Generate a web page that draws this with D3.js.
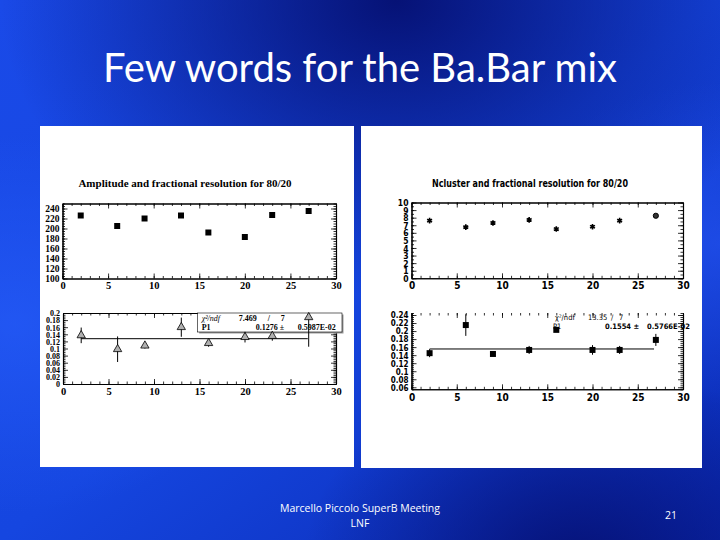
<!DOCTYPE html>
<html><head><meta charset="utf-8">
<script src="https://cdn.jsdelivr.net/npm/d3@7"></script>
<style>html,body{margin:0;padding:0;background:#0b2fc0;}svg{display:block;}</style>
</head><body>
<svg id="c" width="720" height="540"></svg>
<script>
// ---------------- DATA ----------------
const xPositions = [2, 6, 9, 13, 16, 20, 23, 27];
const amplitude = [226, 205, 220, 226, 192, 183, 227, 235];
const ampRes = [0.137, 0.098, 0.108, 0.160, 0.115, 0.132, 0.135, 0.188];
const ampResErr = [0.022, 0.036, 0.008, 0.027, 0.010, 0.015, 0.013, 0.083];
const ncluster = [7.6, 6.75, 7.3, 7.7, 6.5, 6.8, 7.6, 8.25];
const nclRes = [0.145, 0.215, 0.143, 0.153, 0.203, 0.153, 0.153, 0.178];
const nclResErr = [0.010, 0.027, 0.003, 0.010, 0.003, 0.012, 0.010, 0.015];
const ampFit = 0.1276, ampFitText = ["7.469", "7", "0.1276 \u00b1", "0.5987E-02"];
const nclFit = 0.1554, nclFitText = ["13.35", "7", "0.1554 \u00b1", "0.5766E-02"];
const xTicks = [0, 5, 10, 15, 20, 25, 30];
const ampTicks = [100, 120, 140, 160, 180, 200, 220, 240];
const ampResTicks = [0, 0.02, 0.04, 0.06, 0.08, 0.1, 0.12, 0.14, 0.16, 0.18, 0.2];
const nclTicks = [0, 1, 2, 3, 4, 5, 6, 7, 8, 9, 10];
const nclResTicks = [0.06, 0.08, 0.1, 0.12, 0.14, 0.16, 0.18, 0.2, 0.22, 0.24];
const slideTitle = "Few words for the Ba.Bar mix";
const leftTitle = "Amplitude and fractional resolution for 80/20";
const rightTitle = "Ncluster and fractional resolution for 80/20";
const footer1 = "Marcello Piccolo SuperB Meeting", footer2 = "LNF", pageNo = "21";

// ---------------- BACKGROUND ----------------
const svg = d3.select("#c");
const defs = svg.append("defs");
const lg = defs.append("linearGradient").attr("id","bg").attr("x1","0").attr("y1","0").attr("x2","1").attr("y2","1");
[["0%","#1a4ae8"],["50%","#1546e0"],["100%","#0a28b0"]].forEach(s=>lg.append("stop").attr("offset",s[0]).attr("stop-color",s[1]));
function radial(id, cx, cy, r, col, op){
  const g = defs.append("radialGradient").attr("id",id).attr("cx",cx).attr("cy",cy).attr("r",r);
  g.append("stop").attr("offset","0%").attr("stop-color",col).attr("stop-opacity",op);
  g.append("stop").attr("offset","100%").attr("stop-color",col).attr("stop-opacity",0);
}
radial("dk1","0.55","0.0","0.55","#050f70",0.95);
radial("dk2","0.8","1.05","0.38","#050f70",0.9);
radial("br1","0.02","0.6","0.35","#2a62ff",0.55);
radial("br2","1.0","0.45","0.3","#2a5cff",0.5);
["bg","br1","br2","dk1","dk2"].forEach(id=>svg.append("rect").attr("width",720).attr("height",540).attr("fill",`url(#${id})`));

svg.append("text").attr("x",360).attr("y",82).attr("text-anchor","middle")
  .attr("font-family","Lato, 'Open Sans', sans-serif").attr("font-size",40).attr("fill","#fff").text(slideTitle);

svg.append("text").attr("x",360).attr("y",512).attr("text-anchor","middle")
  .attr("font-family","'Open Sans', Lato, sans-serif").attr("font-size",10.5).attr("fill","#fff").text(footer1);
svg.append("text").attr("x",360).attr("y",527).attr("text-anchor","middle")
  .attr("font-family","'Open Sans', Lato, sans-serif").attr("font-size",10.5).attr("fill","#fff").text(footer2);
svg.append("text").attr("x",671).attr("y",519).attr("text-anchor","middle")
  .attr("font-family","'Open Sans', Lato, sans-serif").attr("font-size",10.5).attr("fill","#fff").text(pageNo);

// panels
svg.append("rect").attr("x",40).attr("y",126).attr("width",314).attr("height",341).attr("fill","#fff");
svg.append("rect").attr("x",361).attr("y",126).attr("width",341).attr("height",342).attr("fill","#fff");

const serif = "'Liberation Serif', 'Times New Roman', serif";
const narrow = "'DejaVu Sans Condensed', 'Liberation Sans', sans-serif";

svg.append("text").attr("x",185).attr("y",187).attr("text-anchor","middle")
  .attr("font-family",serif).attr("font-weight","bold").attr("font-size",11).text(leftTitle);
svg.append("text").attr("x",530).attr("y",187).attr("text-anchor","middle")
  .attr("font-family",narrow).attr("font-weight","bold").attr("font-size",10).attr("textLength",196).attr("lengthAdjust","spacingAndGlyphs").text(rightTitle);

// ---------------- PLOT HELPER ----------------
function frame(cfg){
  const x = d3.scaleLinear().domain([0,30]).range([cfg.x0,cfg.x1]);
  const y = d3.scaleLinear().domain(cfg.yDomain).range([cfg.y1,cfg.y0]);
  const g = svg.append("g");
  const fmt = cfg.fmt || (d=>d);
  const yMinor = d3.range(cfg.yDomain[0], cfg.yDomain[1]+1e-9, cfg.yMinorStep).map(v=>+v.toFixed(5));
  const xMinor = d3.range(0,30.001,1);
  const minor = (ax)=>ax.tickFormat("").tickSizeOuter(0);
  g.append("g").attr("transform",`translate(${cfg.x0},0)`).call(minor(d3.axisLeft(y).tickValues(yMinor).tickSizeInner(-2.5)));
  g.append("g").attr("transform",`translate(${cfg.x1},0)`).call(minor(d3.axisRight(y).tickValues(yMinor).tickSizeInner(-2.5)));
  g.append("g").attr("transform",`translate(0,${cfg.y1})`).call(minor(d3.axisBottom(x).tickValues(xMinor).tickSizeInner(-2.5)));
  const gt = g.append("g").attr("transform",`translate(0,${cfg.y0})`).call(minor(d3.axisTop(x).tickValues(xMinor).tickSizeInner(-2.5)));
  const L = g.append("g").attr("transform",`translate(${cfg.x0},0)`)
    .call(d3.axisLeft(y).tickValues(cfg.yTicks).tickFormat(fmt).tickSizeInner(-5).tickSizeOuter(0).tickPadding(cfg.yPad||4));
  g.append("g").attr("transform",`translate(${cfg.x1},0)`)
    .call(d3.axisRight(y).tickValues(cfg.yTicks).tickFormat("").tickSizeInner(-5).tickSizeOuter(0));
  const B = g.append("g").attr("transform",`translate(0,${cfg.y1})`)
    .call(d3.axisBottom(x).tickValues(xTicks).tickSizeInner(-5).tickSizeOuter(0).tickPadding(cfg.xPad||4));
  const T = g.append("g").attr("transform",`translate(0,${cfg.y0})`)
    .call(d3.axisTop(x).tickValues(xTicks).tickFormat("").tickSizeInner(-5).tickSizeOuter(0));
  g.selectAll("line").attr("stroke","#000").attr("stroke-width",0.8);
  g.selectAll(".domain").attr("stroke","#000").attr("stroke-width",1.1);
  if(cfg.noTop){ T.select(".domain").remove(); gt.select(".domain").remove(); }
  g.selectAll("text").attr("font-family",cfg.font).attr("font-weight","bold").attr("fill","#000");
  L.selectAll("text").attr("font-size",cfg.yFont).attr("dy","0.36em");
  B.selectAll("text").attr("font-size",cfg.xFont);
  return {x,y,g};
}

function errBars(p, vals, errs){
  const [lo,hi] = p.y.domain();
  p.g.append("g").selectAll("line").data(xPositions).join("line")
    .attr("x1",d=>p.x(d)).attr("x2",d=>p.x(d))
    .attr("y1",(d,i)=>p.y(Math.min(hi, vals[i]+errs[i])))
    .attr("y2",(d,i)=>p.y(Math.max(lo, vals[i]-errs[i])))
    .attr("stroke","#000").attr("stroke-width",1);
}

// ---------------- LEFT TOP ----------------
const p1 = frame({x0:62.5,x1:336,y0:203.5,y1:278.5,yDomain:[100,250],yTicks:ampTicks,yMinorStep:5,
  font:serif,yFont:9.5,xFont:10.5,yPad:3,xPad:3});
p1.g.append("g").selectAll("path").data(xPositions).join("path")
  .attr("transform",(d,i)=>`translate(${p1.x(d)},${p1.y(amplitude[i])})`)
  .attr("d",d3.symbol(d3.symbolSquare,36)).attr("fill","#000");

// ---------------- LEFT BOTTOM ----------------
const p2 = frame({x0:63,x1:336,y0:313,y1:384,yDomain:[0,0.2],yTicks:ampResTicks,yMinorStep:0.005,
  font:serif,yFont:8,xFont:10.5,yPad:3,xPad:4,fmt:d=>String(+d.toFixed(2))});
p2.g.append("line").attr("x1",p2.x(2)).attr("x2",p2.x(26.9)).attr("y1",p2.y(ampFit)).attr("y2",p2.y(ampFit))
  .attr("stroke","#000").attr("stroke-width",1);
const bx = p2.x(14.8), bw = 342-bx;
p2.g.append("rect").attr("x",bx+1.5).attr("y",313+1.5).attr("width",bw).attr("height",19).attr("fill","#999");
p2.g.append("rect").attr("x",bx).attr("y",313).attr("width",bw).attr("height",19).attr("fill","#fff").attr("stroke","#000").attr("stroke-width",0.6);
const st = p2.g.append("g").attr("font-family",serif).attr("font-size",8);
st.append("text").attr("x",bx+4).attr("y",320.5).attr("font-style","italic").text("\u03c7\u00b2/ndf");
st.append("text").attr("x",bx+41).attr("y",320.5).attr("font-weight","bold").text(ampFitText[0]);
st.append("text").attr("x",bx+70).attr("y",320.5).attr("font-weight","bold").text("/");
st.append("text").attr("x",bx+83).attr("y",320.5).attr("font-weight","bold").text(ampFitText[1]);
st.append("text").attr("x",bx+4).attr("y",329.5).attr("font-weight","bold").text("P1");
st.append("text").attr("x",bx+58).attr("y",329.5).attr("font-weight","bold").text(ampFitText[2]);
st.append("text").attr("x",bx+100).attr("y",329.5).attr("font-weight","bold").text(ampFitText[3]);
errBars(p2, ampRes, ampResErr);
p2.g.append("g").selectAll("path").data(xPositions).join("path")
  .attr("transform",(d,i)=>`translate(${p2.x(d)},${p2.y(ampRes[i])})`)
  .attr("d",d3.symbol(d3.symbolTriangle,30)).attr("fill","#b0b0b0").attr("stroke","#000").attr("stroke-width",0.8);

// ---------------- RIGHT TOP ----------------
const p3 = frame({x0:411.5,x1:683,y0:202.5,y1:278.3,yDomain:[0,10],yTicks:nclTicks,yMinorStep:0.5,
  font:narrow,yFont:8.5,xFont:10,yPad:3,xPad:4});
p3.g.append("g").selectAll("path").data(xPositions.slice(0,7)).join("path")
  .attr("transform",(d,i)=>`translate(${p3.x(d)},${p3.y(ncluster[i])})`)
  .attr("d",d3.symbol(d3.symbolAsterisk,22)).attr("fill","none").attr("stroke","#000").attr("stroke-width",1.6);
p3.g.append("circle").attr("cx",p3.x(xPositions[7])).attr("cy",p3.y(ncluster[7])).attr("r",2.6)
  .attr("fill","#333").attr("stroke","#000").attr("stroke-width",1);

// ---------------- RIGHT BOTTOM ----------------
const p4 = frame({x0:411.5,x1:683,y0:313,y1:389.3,yDomain:[0.055,0.245],yTicks:nclResTicks,yMinorStep:0.005,
  font:narrow,yFont:8,xFont:10,yPad:3,xPad:5,noTop:true,fmt:d=>String(+d.toFixed(2))});
p4.g.append("line").attr("x1",p4.x(2)).attr("x2",p4.x(26.8)).attr("y1",p4.y(nclFit)).attr("y2",p4.y(nclFit))
  .attr("stroke","#000").attr("stroke-width",1);
const st2 = p4.g.append("g").attr("font-family",narrow).attr("font-size",7.5);
st2.append("text").attr("x",555).attr("y",320).text("\u03c7\u00b2/ndf");
st2.append("text").attr("x",588).attr("y",320).text(nclFitText[0]);
st2.append("text").attr("x",611).attr("y",320).text("/");
st2.append("text").attr("x",619).attr("y",320).text(nclFitText[1]);
st2.append("text").attr("x",553).attr("y",329).text("P1");
st2.append("text").attr("x",605).attr("y",329).attr("font-weight","bold").text(nclFitText[2]);
st2.append("text").attr("x",647).attr("y",329).attr("font-weight","bold").text(nclFitText[3]);
errBars(p4, nclRes, nclResErr);
p4.g.append("g").selectAll("path").data(xPositions).join("path")
  .attr("transform",(d,i)=>`translate(${p4.x(d)},${p4.y(nclRes[i])})`)
  .attr("d",d3.symbol(d3.symbolSquare,36)).attr("fill","#000");
</script>
</body></html>
